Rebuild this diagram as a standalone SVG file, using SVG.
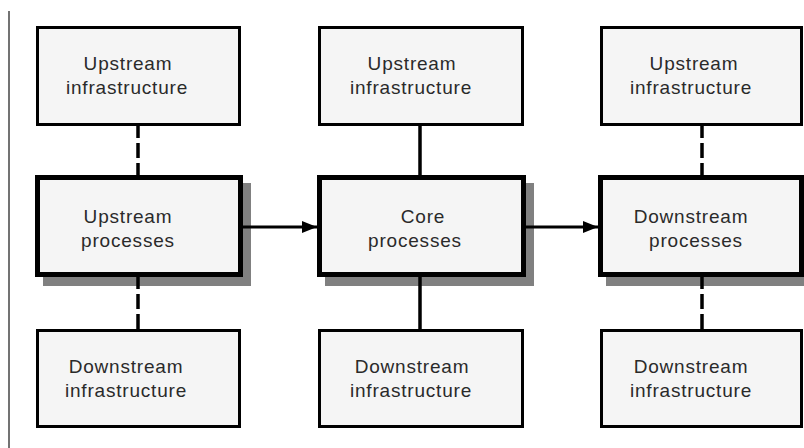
<svg xmlns="http://www.w3.org/2000/svg" width="804" height="448" viewBox="0 0 804 448">
<defs>
<style>
.thin{fill:#f5f5f5;stroke:#000;stroke-width:3}
.thick{fill:#f5f5f5;stroke:#000;stroke-width:5}
.shadow{fill:#808080}
text{font-family:"Liberation Sans",Arial,sans-serif;font-size:19px;fill:#2a2a2a;text-anchor:middle;letter-spacing:0.8px}
.solid{stroke:#000;stroke-width:3.5;fill:none}
.dash{stroke:#000;stroke-width:3.5;fill:none;stroke-dasharray:15 5;stroke-dashoffset:3}
.arrow{stroke:#000;stroke-width:3;fill:none}
</style>
<marker id="ah" markerWidth="16" markerHeight="12" refX="15" refY="6" orient="auto" markerUnits="userSpaceOnUse">
<path d="M0,0 L15,6 L0,12 z" fill="#000"/>
</marker>
</defs>
<rect width="804" height="448" fill="#fff"/>
<line x1="9" y1="11" x2="9" y2="448" stroke="#444" stroke-width="1.5"/>

<g id="up-infra-1">
<rect class="thin" x="37.5" y="27.5" width="202" height="97"/>
<text x="128" y="70">Upstream</text>
<text x="127" y="94">infrastructure</text>
</g>
<g id="up-proc">
<rect class="shadow" x="43" y="183" width="208" height="103"/>
<rect class="thick" x="37.5" y="177.5" width="203" height="97"/>
<text x="128" y="223">Upstream</text>
<text x="128" y="247">processes</text>
</g>
<g id="down-infra-1">
<rect class="thin" x="37.5" y="330.5" width="202" height="96"/>
<text x="126" y="373">Downstream</text>
<text x="126" y="397">infrastructure</text>
</g>

<g id="up-infra-2">
<rect class="thin" x="319.5" y="27.5" width="203" height="97"/>
<text x="412" y="70">Upstream</text>
<text x="411" y="94">infrastructure</text>
</g>
<g id="core-proc">
<rect class="shadow" x="325" y="183" width="209" height="103"/>
<rect class="thick" x="319.5" y="177.5" width="204" height="97"/>
<text x="423" y="223">Core</text>
<text x="415" y="247">processes</text>
</g>
<g id="down-infra-2">
<rect class="thin" x="319.5" y="330.5" width="203" height="96"/>
<text x="412" y="373">Downstream</text>
<text x="411" y="397">infrastructure</text>
</g>

<g id="up-infra-3">
<rect class="thin" x="601.5" y="27.5" width="200" height="97"/>
<text x="694" y="70">Upstream</text>
<text x="691" y="94">infrastructure</text>
</g>
<g id="down-proc">
<rect class="shadow" x="606" y="183" width="208" height="103"/>
<rect class="thick" x="600.5" y="177.5" width="201" height="97"/>
<text x="691" y="223">Downstream</text>
<text x="696" y="247">processes</text>
</g>
<g id="down-infra-3">
<rect class="thin" x="601.5" y="330.5" width="200" height="96"/>
<text x="691" y="373">Downstream</text>
<text x="691" y="397">infrastructure</text>
</g>

<g id="connectors">
<line class="dash" x1="138" y1="126" x2="138" y2="175"/>
<line class="dash" x1="138" y1="277" x2="138" y2="329"/>
<line class="solid" x1="420" y1="126" x2="420" y2="175"/>
<line class="solid" x1="420" y1="277" x2="420" y2="329"/>
<line class="dash" x1="702" y1="126" x2="702" y2="175"/>
<line class="dash" x1="702" y1="277" x2="702" y2="329"/>
<line class="arrow" x1="243" y1="227" x2="317" y2="227" marker-end="url(#ah)"/>
<line class="arrow" x1="526" y1="227" x2="598" y2="227" marker-end="url(#ah)"/>
</g>
</svg>
